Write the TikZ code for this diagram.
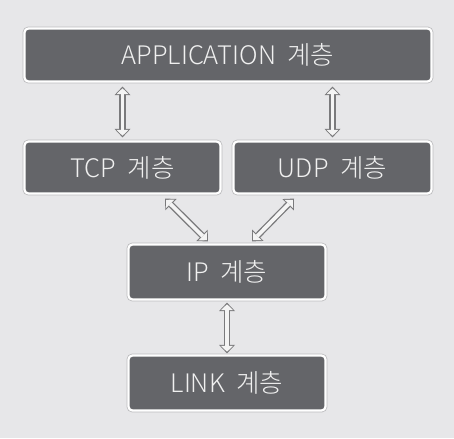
\documentclass[tikz,border=0pt]{standalone}
\usepackage{fontspec}
\setmainfont{Noto Sans CJK KR}[UprightFont=* Light]
\usetikzlibrary{arrows.meta,calc}
\definecolor{bggray}{HTML}{E7E7E9}
\definecolor{boxgray}{HTML}{646569}
\definecolor{rimgray}{HTML}{BDBDBF}
\definecolor{arrgray}{HTML}{7A7A7C}
\definecolor{arrin}{HTML}{F4F4F4}
\definecolor{txtgray}{HTML}{F0F0F0}
\tikzset{
  layerbox/.style={draw=white, line width=2.2pt, fill=boxgray, rounded corners=4pt,
    text=txtgray, font=\fontsize{25.5}{28}\selectfont, inner sep=0pt,
    preaction={draw=rimgray, line width=3.8pt}},
  harrow/.style={draw=arrgray, line width=6.4pt,
    {Triangle[length=8.5pt,width=16pt,line width=0pt]}-{Triangle[length=8.5pt,width=16pt,line width=0pt]},
    postaction={draw=arrin, line width=3.8pt, shorten <=1.7pt, shorten >=1.7pt,
    {Triangle[length=5.8pt,width=12pt,line width=0pt]}-{Triangle[length=5.8pt,width=12pt,line width=0pt]}}}
}
\newcommand{\wsp}{\hspace{0.45em}}
\begin{document}
\begin{tikzpicture}[x=1pt,y=1pt]
\fill[bggray] (0,0) rectangle (454,-438);
\useasboundingbox (0,0) rectangle (454,-438);
\node[layerbox, minimum width=407pt, minimum height=53pt] (app) at (228,-55) {APPLICATION\wsp 계층};
\node[layerbox, minimum width=196pt, minimum height=52pt] (tcp) at (122.5,-167.5) {TCP\wsp 계층};
\node[layerbox, minimum width=198pt, minimum height=52pt] (udp) at (332.5,-167.5) {UDP\wsp 계층};
\node[layerbox, minimum width=197pt, minimum height=55pt] (ip) at (227,-272) {IP\wsp 계층};
\node[layerbox, minimum width=197pt, minimum height=55pt] (link) at (227,-383) {LINK\wsp 계층};
\coordinate (a1) at ($(tcp.north |- app.south)+(0,-4)$);
\coordinate (b1) at ($(tcp.north)+(0,3)$);
\coordinate (a2) at ($(udp.north |- app.south)+(0,-4)$);
\coordinate (b2) at ($(udp.north)+(0,3)$);
\coordinate (c1) at ($(tcp.south)+(42.5,-4)$);
\coordinate (d1) at ($(ip.north)+(-19,2)$);
\coordinate (c2) at ($(udp.south)+(-38.5,-4)$);
\coordinate (d2) at ($(ip.north)+(25,2)$);
\coordinate (e1) at ($(ip.south)+(0,-2)$);
\coordinate (e2) at ($(link.north)+(0,1)$);
\draw[harrow] (a1) -- (b1);
\draw[harrow] (a2) -- (b2);
\draw[harrow] (c1) -- (d1);
\draw[harrow] (c2) -- (d2);
\draw[harrow] (e1) -- (e2);
\end{tikzpicture}
\end{document}
